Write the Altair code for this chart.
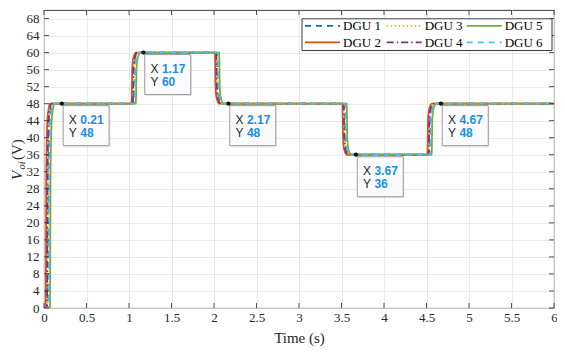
import altair as alt
import pandas as pd

# ---------------- data ----------------
series = ["DGU 1", "DGU 2", "DGU 3", "DGU 4", "DGU 5", "DGU 6"]
colors = ["#0072BD", "#D95319", "#EDB120", "#7E2F8E", "#77AC30", "#4DBEEE"]
dashes = [[6, 5], [1, 0], [1.5, 2.5], [7, 3, 1.5, 3], [1, 0], [6, 5]]

# voltage samples (V), shared by all DGUs
voltage = [0, 0, 34, 45, 48, 48, 56.5, 59, 60, 60, 51.5, 49, 48,
           48, 39.5, 37, 36, 36, 44.5, 47, 48, 48]

# time samples (s) for each DGU
t_dgu1 = [0, 0.045, 0.053, 0.068, 0.1, 1.055, 1.064, 1.08, 1.11, 2.035, 2.044, 2.06, 2.09,
          3.535, 3.544, 3.56, 3.59, 4.535, 4.544, 4.56, 4.59, 6]
t_dgu2 = [0, 0.02, 0.028, 0.043, 0.075, 1.03, 1.039, 1.055, 1.085, 2.01, 2.019, 2.035, 2.065,
          3.51, 3.519, 3.535, 3.565, 4.51, 4.519, 4.535, 4.565, 6]
t_dgu3 = [0, 0.04, 0.048, 0.063, 0.095, 1.05, 1.059, 1.075, 1.105, 2.03, 2.039, 2.055, 2.085,
          3.53, 3.539, 3.555, 3.585, 4.53, 4.539, 4.555, 4.585, 6]
t_dgu4 = [0, 0.035, 0.043, 0.058, 0.09, 1.045, 1.054, 1.07, 1.1, 2.025, 2.034, 2.05, 2.08,
          3.525, 3.534, 3.55, 3.58, 4.525, 4.534, 4.55, 4.58, 6]
t_dgu5 = [0, 0.07, 0.078, 0.093, 0.125, 1.08, 1.089, 1.105, 1.135, 2.06, 2.069, 2.085, 2.115,
          3.56, 3.569, 3.585, 3.615, 4.56, 4.569, 4.585, 4.615, 6]
t_dgu6 = [0, 0.055, 0.063, 0.078, 0.11, 1.065, 1.074, 1.09, 1.12, 2.045, 2.054, 2.07, 2.1,
          3.545, 3.554, 3.57, 3.6, 4.545, 4.554, 4.57, 4.6, 6]
times = [t_dgu1, t_dgu2, t_dgu3, t_dgu4, t_dgu5, t_dgu6]

tip_x = [0.21, 1.17, 2.17, 3.67, 4.67]
tip_y = [48, 60, 48, 36, 48]
tip_x_text = ["0.21", "1.17", "2.17", "3.67", "4.67"]
tip_y_text = ["48", "60", "48", "36", "48"]

x_ticks = [0, 0.5, 1, 1.5, 2, 2.5, 3, 3.5, 4, 4.5, 5, 5.5, 6]
y_ticks = [0, 4, 8, 12, 16, 20, 24, 28, 32, 36, 40, 44, 48, 52, 56, 60, 64, 68]

# ---------------- layout ----------------
W, H = 510, 298
SERIF = "Liberation Serif"
SANS = "Liberation Sans"
DARK = "#262626"
TIP_BLUE = "#1a8fe3"

rows = []
for s, ts in zip(series, times):
    for i, (t, v) in enumerate(zip(ts, voltage)):
        rows.append({"series": s, "t": t, "v": v, "i": i})
df = pd.DataFrame(rows)

tips = pd.DataFrame({"t": tip_x, "v": tip_y, "xs": tip_x_text, "ys": tip_y_text})

xscale = alt.Scale(domain=[0, 6], nice=False, zero=False)
yscale = alt.Scale(domain=[0, 70], nice=False)

x_axis = alt.Axis(values=x_ticks, format="~g", title="Time (s)", grid=True,
                  gridColor="#e3e3e3", gridWidth=0.8, domain=False, ticks=False,
                  labelFont=SERIF, labelFontSize=13, labelColor=DARK, labelPadding=3,
                  titleFont=SERIF, titleFontSize=15, titleFontWeight="normal",
                  titleColor=DARK, titlePadding=6, labelFlush=False, labelOverlap=False)
y_axis = alt.Axis(values=y_ticks, title=None, grid=True, gridColor="#e3e3e3",
                  gridWidth=0.8, domain=False, ticks=False, labelFont=SERIF,
                  labelFontSize=13, labelColor=DARK, labelPadding=5, labelFlush=False,
                  labelOverlap=False)
XE = alt.X("t:Q", scale=xscale, axis=x_axis)
YE = alt.Y("v:Q", scale=yscale, axis=y_axis)

lines = alt.Chart(df).mark_line(strokeWidth=1.8, interpolate="monotone", clip=True).encode(
    x=XE, y=YE,
    color=alt.Color("series:N", scale=alt.Scale(domain=series, range=colors), legend=None),
    strokeDash=alt.StrokeDash("series:N", scale=alt.Scale(domain=series, range=dashes), legend=None),
    order="i:Q",
)

# inward ticks on all four sides
xt = pd.DataFrame({"t": x_ticks})
yt = pd.DataFrame({"v": y_ticks})
tick_style = dict(color=DARK, strokeWidth=0.8)
ticks_bottom = alt.Chart(xt).mark_rule(**tick_style).encode(
    x=XE, y=alt.value(H), y2=alt.value(H - 5))
ticks_top = alt.Chart(xt).mark_rule(**tick_style).encode(
    x=XE, y=alt.value(0), y2=alt.value(5))
ticks_left = alt.Chart(yt).mark_rule(**tick_style).encode(
    y=YE, x=alt.value(0), x2=alt.value(5))
ticks_right = alt.Chart(yt).mark_rule(**tick_style).encode(
    y=YE, x=alt.value(W), x2=alt.value(W - 5))

# data tips
tip_base = alt.Chart(tips).encode(x=XE, y=YE)
tip_shadow = tip_base.mark_rect(width=46, height=40, xOffset=25.5, yOffset=23.5,
                                fill="#000000", opacity=0.08)
tip_box = tip_base.mark_rect(width=46, height=40, xOffset=24.3, yOffset=22,
                             fill="#fbfbfd", stroke="#9a9a9a", strokeWidth=1)
tip_dot = tip_base.mark_circle(size=18, color="#111111", opacity=1)
tip_xl = tip_base.mark_text(text="X", align="left", baseline="middle", dx=7, dy=16.5,
                            font=SANS, fontSize=12, color=DARK)
tip_yl = tip_base.mark_text(text="Y", align="left", baseline="middle", dx=7, dy=29.5,
                            font=SANS, fontSize=12, color=DARK)
tip_xv = tip_base.mark_text(align="left", baseline="middle", dx=18.5, dy=16.5, font=SANS,
                            fontSize=12, fontWeight="bold", color=TIP_BLUE).encode(text="xs:N")
tip_yv = tip_base.mark_text(align="left", baseline="middle", dx=18.5, dy=29.5, font=SANS,
                            fontSize=12, fontWeight="bold", color=TIP_BLUE).encode(text="ys:N")

# y-axis title  V_oi(V)
one = pd.DataFrame({"a": [0]})
ytitle_v = alt.Chart(one).mark_text(text="V", angle=270, align="left", baseline="alphabetic",
                                    font=SERIF, fontSize=15, fontStyle="italic", color=DARK).encode(
    x=alt.value(-22), y=alt.value(170))
ytitle_sub = alt.Chart(one).mark_text(text="oi", angle=270, align="left", baseline="alphabetic",
                                      font=SERIF, fontSize=10.5, fontStyle="italic", color=DARK).encode(
    x=alt.value(-19), y=alt.value(159.5))
ytitle_unit = alt.Chart(one).mark_text(text="(V)", angle=270, align="left", baseline="alphabetic",
                                       font=SERIF, fontSize=15, color=DARK).encode(
    x=alt.value(-22), y=alt.value(150))

# legend (2 rows x 3 columns, column-major)
leg_box = alt.Chart(one).mark_rect(fill="white", stroke=DARK, strokeWidth=0.9).encode(
    x=alt.value(258), x2=alt.value(508), y=alt.value(8.8), y2=alt.value(40.5))
leg_layers = [leg_box]
col_x = [261, 342.7, 422.7]
row_y = [15.8, 32.4]
for k, (s, c, d) in enumerate(zip(series, colors, dashes)):
    cx = col_x[k // 2]
    ry = row_y[k % 2]
    leg_layers.append(alt.Chart(one).mark_rule(color=c, strokeWidth=1.8, strokeDash=d).encode(
        x=alt.value(cx), x2=alt.value(cx + 35), y=alt.value(ry)))
    leg_layers.append(alt.Chart(one).mark_text(text=s, align="left", baseline="middle",
                                               font=SERIF, fontSize=13, color="black").encode(
        x=alt.value(cx + 38), y=alt.value(ry + 0.5)))

chart = alt.layer(
    lines, ticks_bottom, ticks_top, ticks_left, ticks_right,
    tip_shadow, tip_box, tip_dot, tip_xl, tip_yl, tip_xv, tip_yv,
    ytitle_v, ytitle_sub, ytitle_unit, *leg_layers
).properties(
    width=W, height=H,
    autosize=alt.AutoSizeParams(type="none"),
    padding={"left": 36, "top": 2, "right": 3, "bottom": 38},
    background="white",
).configure_view(stroke=DARK, strokeWidth=0.9).configure_axis(
    labelFont=SERIF, titleFont=SERIF
)

chart.save("out.html", embed_options={"renderer": "svg", "actions": False})
